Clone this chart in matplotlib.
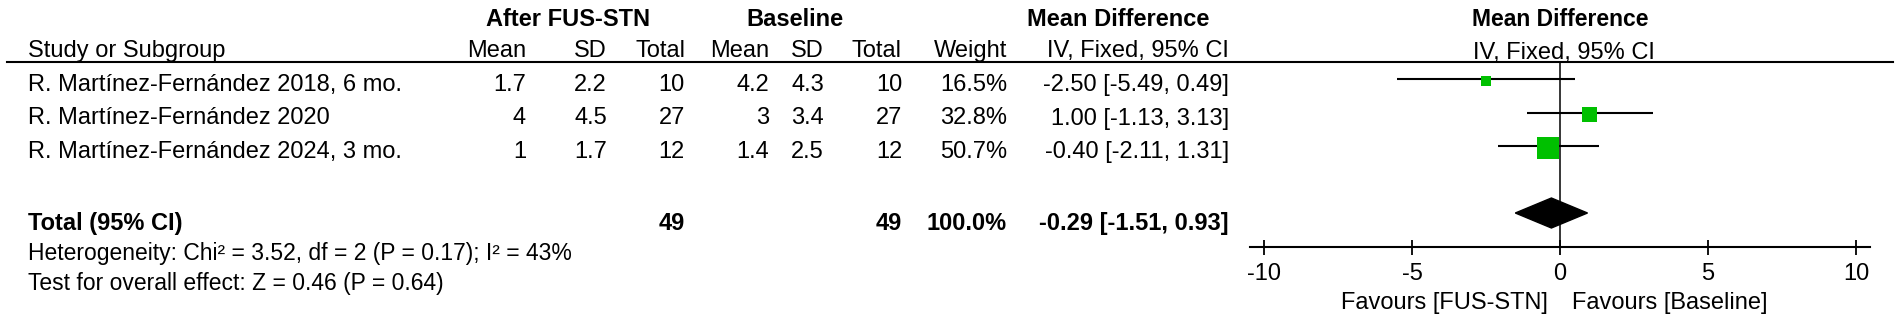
import matplotlib.pyplot as plt
from matplotlib.patches import Polygon

plt.rcParams['font.family'] = ['Liberation Sans', 'DejaVu Sans']

# data
studies = ["R. Martínez-Fernández 2018, 6 mo.",
           "R. Martínez-Fernández 2020",
           "R. Martínez-Fernández 2024, 3 mo."]
fus_mean = [1.7, 4, 1]
fus_sd = [2.2, 4.5, 1.7]
fus_n = [10, 27, 12]
base_mean = [4.2, 3, 1.4]
base_sd = [4.3, 3.4, 2.5]
base_n = [10, 27, 12]
weight = [16.5, 32.8, 50.7]
md = [-2.50, 1.00, -0.40]
ci_low = [-5.49, -1.13, -2.11]
ci_high = [0.49, 3.13, 1.31]

total_fus = 49
total_base = 49
total_weight = 100.0
total_md = -0.29
total_low = -1.51
total_high = 0.93

heterogeneity = "Heterogeneity: Chi² = 3.52, df = 2 (P = 0.17); I² = 43%"
overall = "Test for overall effect: Z = 0.46 (P = 0.64)"
xticks = [-10, -5, 0, 5, 10]
favours = ["Favours [FUS-STN]", "Favours [Baseline]"]

W, H = 1901, 324
FS = 17
fig = plt.figure(figsize=(W / 100, H / 100), dpi=100)

# table part, in pixel coordinates
tab = fig.add_axes([0, 0, 1, 1])
tab.set_xlim(0, W)
tab.set_ylim(H, 0)
tab.axis('off')

# forest part: 0 at x=1560px, 29.6 px per unit
px_unit = 29.6
x0, x1 = 1250, 1870
ax = fig.add_axes([x0 / W, 0, (x1 - x0) / W, 1])
ax.set_facecolor('none')
ax.set_xlim((x0 - 1560) / px_unit, (x1 - 1560) / px_unit)
ax.set_ylim(H, 0)

row_y = [79 + 33.5 * i for i in range(len(studies))]
total_y = 79 + 33.5 * 4
axis_y = 247

# header
tab.text(568, 26, "After FUS-STN", ha='center', fontsize=FS, fontweight='bold')
tab.text(795, 26, "Baseline", ha='center', fontsize=FS, fontweight='bold')
tab.text(1118, 26, "Mean Difference", ha='center', fontsize=FS, fontweight='bold')
tab.text(1560, 26, "Mean Difference", ha='center', fontsize=FS - 0.5, fontweight='bold')

col_right = [526, 607, 685, 769, 824, 902, 1007]
col_names = ["Mean", "SD", "Total", "Mean", "SD", "Total", "Weight"]
tab.text(28, 57, "Study or Subgroup", ha='left', fontsize=FS)
for xr, name in zip(col_right, col_names):
    tab.text(xr, 57, name, ha='right', fontsize=FS)
tab.text(1138, 57, "IV, Fixed, 95% CI", ha='center', fontsize=FS)
tab.text(1564, 59, "IV, Fixed, 95% CI", ha='center', fontsize=FS)
tab.plot([7, 1893], [62, 62], color='black', lw=1.5)

# study rows
for i, name in enumerate(studies):
    yb = row_y[i] + 12
    vals = [f"{fus_mean[i]:g}", f"{fus_sd[i]:g}", f"{fus_n[i]}",
            f"{base_mean[i]:g}", f"{base_sd[i]:g}", f"{base_n[i]}",
            f"{weight[i]:.1f}%"]
    tab.text(28, yb, name, ha='left', fontsize=FS)
    for xr, v in zip(col_right, vals):
        tab.text(xr, yb, v, ha='right', fontsize=FS)
    tab.text(1229, yb, f"{md[i]:.2f} [{ci_low[i]:.2f}, {ci_high[i]:.2f}]",
             ha='right', fontsize=FS)

# total row
tb = total_y + 17
tab.text(28, tb, "Total (95% CI)", ha='left', fontsize=FS, fontweight='bold')
tab.text(col_right[2], tb, f"{total_fus}", ha='right', fontsize=FS, fontweight='bold')
tab.text(col_right[5], tb, f"{total_base}", ha='right', fontsize=FS, fontweight='bold')
tab.text(col_right[6], tb, f"{total_weight:.1f}%", ha='right', fontsize=FS, fontweight='bold')
tab.text(1229, tb, f"{total_md:.2f} [{total_low:.2f}, {total_high:.2f}]",
         ha='right', fontsize=FS, fontweight='bold')
tab.text(28, 260, heterogeneity, ha='left', fontsize=FS - 0.5)
tab.text(28, 290, overall, ha='left', fontsize=FS - 0.5)

# forest marks
ax.hlines(row_y, ci_low, ci_high, color='black', lw=1.5, zorder=2)
sides = [4.2 + 0.351 * w for w in weight]
ax.scatter(md, [y + 2 for y in row_y], marker='s', s=[(s * 0.72) ** 2 for s in sides],
           color='#00c000', linewidths=0, zorder=3)
ax.add_patch(Polygon([(total_low, total_y), (total_md, total_y - 15),
                      (total_high, total_y), (total_md, total_y + 15)],
                     closed=True, color='black', zorder=3))
ax.plot([0, 0], [62, axis_y], color='black', lw=1.1, zorder=1)

for s in ['top', 'left', 'right']:
    ax.spines[s].set_visible(False)
ax.spines['bottom'].set_position(('data', axis_y))
ax.spines['bottom'].set_linewidth(1.5)
ax.set_xticks(xticks)
ax.set_xticklabels([f"{t}" for t in xticks])
ax.tick_params(axis='x', direction='inout', length=10.8, width=1.3,
               labelsize=FS, pad=6.2)
ax.set_yticks([])

tab.text(1548, 309, favours[0], ha='right', fontsize=FS)
tab.text(1572, 309, favours[1], ha='left', fontsize=FS)

fig.savefig('out.png', dpi=100)
